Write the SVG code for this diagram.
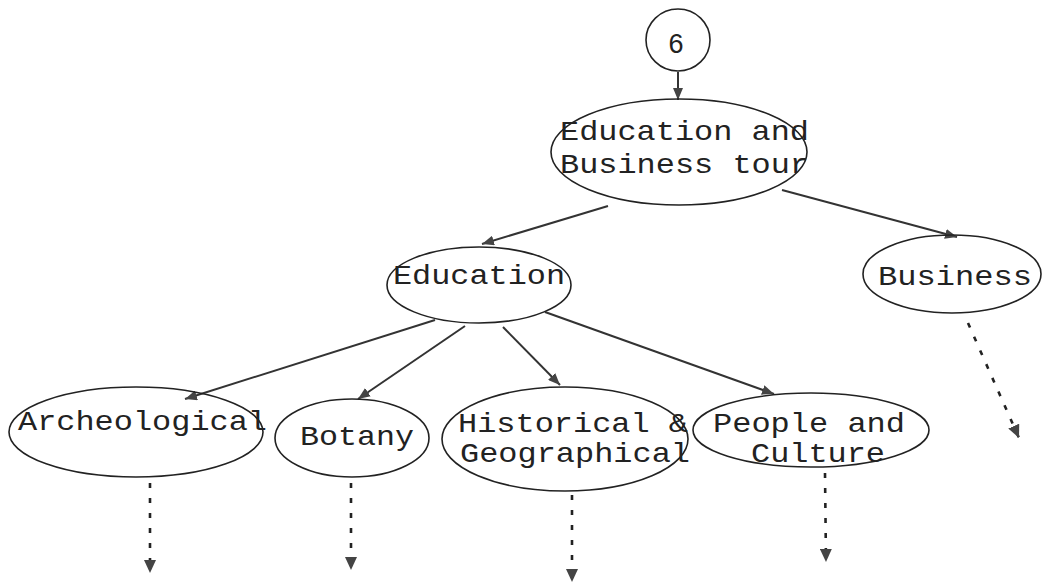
<svg xmlns="http://www.w3.org/2000/svg" width="1045" height="583" viewBox="0 0 1045 583">
  <style>
    .node { fill: none; stroke: #222; stroke-width: 1.6; }
    .label { font-family: "Liberation Mono", "Courier New", monospace; font-size: 28px; fill: #222; }
    .num { font-family: "Liberation Sans", Arial, sans-serif; font-size: 27px; fill: #222; text-anchor: middle; }
    .edge { stroke: #333; stroke-width: 2; fill: none; marker-end: url(#head); }
    .dots { stroke: #222; stroke-width: 2.6; fill: none; stroke-dasharray: 5 10; marker-end: url(#headDot); }
  </style>
  <defs>
    <marker id="head" viewBox="0 0 12 10" refX="12" refY="5" markerWidth="12" markerHeight="10" markerUnits="userSpaceOnUse" orient="auto">
      <path d="M0,0 L12,5 L0,10 z" fill="#444"/>
    </marker>
    <marker id="headDot" viewBox="0 0 13 12" refX="13" refY="6" markerWidth="13" markerHeight="12" markerUnits="userSpaceOnUse" orient="auto">
      <path d="M0,0 L13,6 L0,12 z" fill="#444"/>
    </marker>
  </defs>
  <rect width="1045" height="583" fill="#fff"/>

  <!-- connectors -->
  <g id="connectors">
    <line class="edge" x1="678" y1="72" x2="678" y2="100"/>
    <line class="edge" x1="608" y1="206" x2="482" y2="244"/>
    <line class="edge" x1="782" y1="190" x2="957" y2="237"/>
    <line class="edge" x1="435" y1="320" x2="185" y2="399"/>
    <line class="edge" x1="465" y1="326" x2="358" y2="399"/>
    <line class="edge" x1="503" y1="327" x2="560" y2="385"/>
    <line class="edge" x1="545" y1="312" x2="774" y2="394"/>
    <line class="dots" x1="150" y1="483" x2="150" y2="573"/>
    <line class="dots" x1="351" y1="483" x2="351" y2="570"/>
    <line class="dots" x1="572" y1="495" x2="572" y2="582"/>
    <line class="dots" x1="825" y1="473" x2="826" y2="562"/>
    <line class="dots" x1="968" y1="323" x2="1019" y2="438"/>
  </g>

  <!-- nodes -->
  <g id="n6">
    <ellipse class="node" cx="678" cy="40" rx="32" ry="31"/>
    <text class="num" x="676" y="53">6</text>
  </g>
  <g id="tour">
    <ellipse class="node" cx="679" cy="152" rx="128" ry="53"/>
    <text class="label" x="560" y="140" textLength="249" lengthAdjust="spacingAndGlyphs">Education and</text>
    <text class="label" x="560" y="173" textLength="249" lengthAdjust="spacingAndGlyphs">Business tour</text>
  </g>
  <g id="education">
    <ellipse class="node" cx="479" cy="285" rx="92" ry="38"/>
    <text class="label" x="393" y="284" textLength="172" lengthAdjust="spacingAndGlyphs">Education</text>
  </g>
  <g id="business">
    <ellipse class="node" cx="952" cy="274" rx="89" ry="39"/>
    <text class="label" x="878" y="285" textLength="154" lengthAdjust="spacingAndGlyphs">Business</text>
  </g>
  <g id="archeological">
    <ellipse class="node" cx="136" cy="432" rx="127" ry="45"/>
    <text class="label" x="18" y="430" textLength="249" lengthAdjust="spacingAndGlyphs">Archeological</text>
  </g>
  <g id="botany">
    <ellipse class="node" cx="352" cy="438" rx="77" ry="39"/>
    <text class="label" x="300" y="445" textLength="114" lengthAdjust="spacingAndGlyphs">Botany</text>
  </g>
  <g id="historical">
    <ellipse class="node" cx="565" cy="439" rx="123" ry="52"/>
    <text class="label" x="458" y="432" textLength="230" lengthAdjust="spacingAndGlyphs">Historical &amp;</text>
    <text class="label" x="460" y="462" textLength="230" lengthAdjust="spacingAndGlyphs">Geographical</text>
  </g>
  <g id="people">
    <ellipse class="node" cx="811" cy="430" rx="118" ry="37"/>
    <text class="label" x="713" y="432" textLength="192" lengthAdjust="spacingAndGlyphs">People and</text>
    <text class="label" x="751" y="462" textLength="134" lengthAdjust="spacingAndGlyphs">Culture</text>
  </g>
</svg>
